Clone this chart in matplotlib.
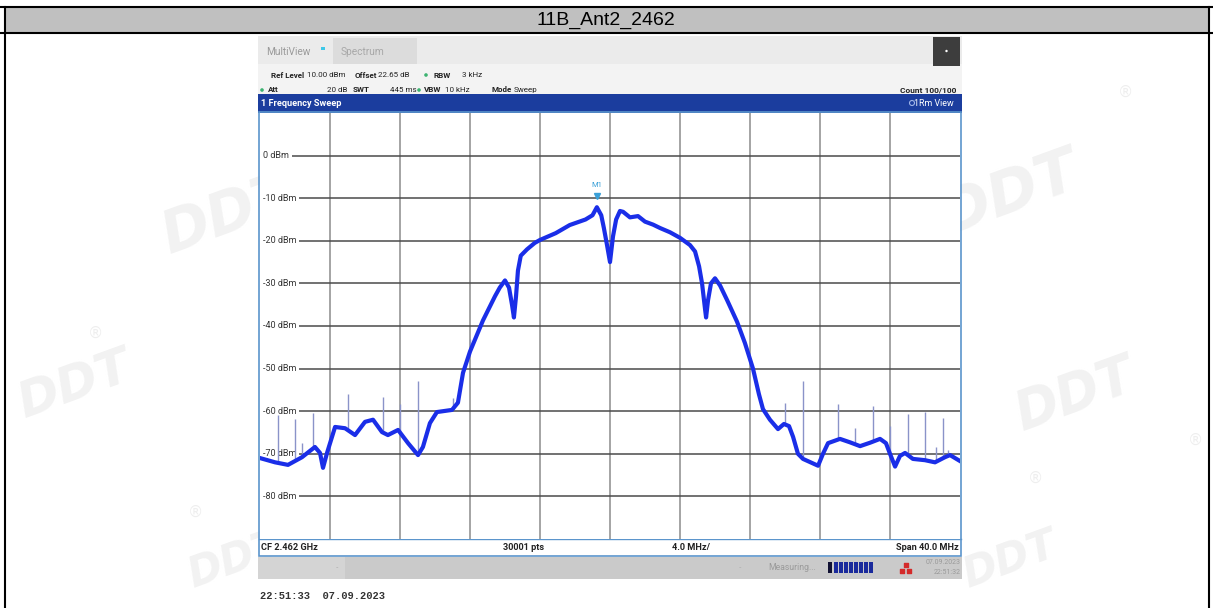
import numpy as np
import matplotlib
matplotlib.use("Agg")
import matplotlib.pyplot as plt
from matplotlib.patches import Rectangle, Circle
from matplotlib import font_manager

title = "11B_Ant2_2462"

# trace: offset from CF (MHz) and level (dBm)
freq_mhz = [-20.0, -19.14, -18.4, -17.6, -16.86, -16.57, -16.4, -16.17, -15.71, -15.14,
            -14.57, -14.0, -13.54, -13.03, -12.69, -12.11, -11.54, -10.97, -10.69, -10.29,
            -9.89, -9.03, -8.69, -8.4, -8.0, -7.26, -6.57, -6.3, -6.0, -5.77,
            -5.6, -5.49, -5.37, -5.26, -5.1, -4.74, -4.3, -4.0, -3.1, -2.3,
            -1.4, -1.0, -0.75, -0.5, -0.35, -0.17, 0.0, 0.17, 0.35, 0.57,
            0.75, 1.14, 1.6, 2.0, 2.46, 2.86, 3.43, 4.0, 4.57, 4.86,
            5.09, 5.26, 5.43, 5.49, 5.6, 5.77, 6.0, 6.29, 6.7, 7.26,
            7.71, 8.17, 8.51, 8.74, 9.14, 9.6, 9.94, 10.23, 10.46, 10.74,
            11.03, 11.89, 12.17, 12.46, 13.14, 13.71, 14.29, 14.86, 15.43, 15.77,
            16.0, 16.29, 16.57, 16.86, 17.31, 18.0, 18.57, 19.14, 19.43, 20.0]
level_dbm = [-71.0, -72.0, -72.6, -70.8, -68.4, -69.8, -73.3, -69.8, -63.7, -64.0,
             -65.6, -62.5, -62.0, -64.9, -65.6, -64.4, -67.5, -70.3, -68.4, -62.8,
             -60.2, -59.7, -58.0, -51.0, -46.0, -38.7, -33.0, -31.0, -29.3, -31.0,
             -35.0, -38.0, -33.0, -27.0, -23.5, -22.0, -20.5, -19.8, -18.2, -16.3,
             -15.0, -14.0, -12.12, -14.0, -17.0, -21.0, -25.0, -19.0, -15.0, -13.0,
             -13.2, -14.5, -14.2, -15.5, -16.2, -17.0, -18.0, -19.3, -21.0, -22.5,
             -26.0, -30.0, -36.0, -38.0, -34.0, -30.0, -28.8, -30.5, -34.0, -39.0,
             -44.0, -50.0, -56.0, -59.5, -62.0, -64.2, -63.0, -63.5, -66.0, -70.0,
             -71.2, -72.8, -70.0, -67.5, -66.5, -67.3, -68.2, -67.4, -66.5, -67.5,
             -70.0, -73.0, -70.5, -69.8, -71.2, -71.5, -72.0, -70.8, -70.3, -71.7]

# narrow spurs sticking out of the trace
spur_mhz = [-19.0, -18.0, -17.6, -17.0, -15.0, -13.0, -12.0, -11.0, -9.0, -8.0,
            10.0, 11.0, 13.0, 14.0, 15.0, 16.0, 17.0, 18.0, 18.6, 19.0, 19.3]
spur_top = [-61.0, -61.8, -67.4, -60.4, -56.0, -56.6, -58.2, -52.8, -56.8, -43.0,
            -58.0, -52.8, -58.2, -64.0, -58.7, -63.4, -60.6, -60.3, -68.5, -61.7, -69.0]

level_ticks = [0, -10, -20, -30, -40, -50, -60, -70, -80]
freq_grid = [-16, -12, -8, -4, 0, 4, 8, 12, 16]

m1_freq = -0.7466
m1_level = -12.12

names = {f.name for f in font_manager.fontManager.ttflist}
ui = "Liberation Sans Narrow" if "Liberation Sans Narrow" in names else "Roboto"

W, H = 1213, 608
fig = plt.figure(figsize=(W / 100, H / 100), dpi=100)
page = fig.add_axes([0, 0, 1, 1])
page.set_xlim(0, W)
page.set_ylim(H, 0)
page.axis("off")

# faint watermarks of the report
wm = "#f2f2f2"
for (x, y, s) in [(228, 215, 42), (1010, 195, 44), (1075, 395, 38), (75, 385, 36),
                  (235, 560, 30), (1010, 560, 30)]:
    page.text(x, y, "DDT", fontsize=s, fontweight="bold", style="italic", color=wm,
              ha="center", va="center", rotation=20, zorder=0)
for (x, y) in [(1125, 92), (95, 333), (195, 512), (1035, 478), (1195, 440)]:
    page.text(x, y, "\u00ae", fontsize=11, color="#eeeeee", ha="center", va="center", zorder=0)

# table header
page.add_patch(Rectangle((5, 7), 1204, 26, fc="#c0c0c0", ec="none", zorder=1))
page.plot([0, W], [7, 7], color="black", lw=1.5, zorder=2)
page.plot([0, W], [33, 33], color="black", lw=1.5, zorder=2)
page.plot([5, 5], [7, H], color="black", lw=1.5, zorder=2)
page.plot([1209, 1209], [7, H], color="black", lw=1.5, zorder=2)
page.text(606, 20, title, fontsize=14, family="Liberation Sans", ha="center", va="center", zorder=3)

# instrument screenshot frame
page.add_patch(Rectangle((258, 36), 704, 28, fc="#ebebeb", ec="none", zorder=1))
page.add_patch(Rectangle((258, 64), 704, 30, fc="#f3f3f3", ec="none", zorder=1))
page.add_patch(Rectangle((333, 38), 84, 26, fc="#dcdcdc", ec="none", zorder=1))
page.add_patch(Rectangle((933, 37), 27, 29, fc="#3d3d3d", ec="none", zorder=1))
page.add_patch(Circle((946.5, 51), 1.2, fc="white", ec="none", zorder=2))
page.text(266, 52, "MultiView", fontsize=7.3, family=ui, color="#9a9a9a", va="center", zorder=3)
page.add_patch(Rectangle((321, 47), 4, 3, fc="#3ec8e8", ec="none", zorder=3))
page.text(341, 52, "Spectrum", fontsize=7.3, family=ui, color="#a8a8a8", va="center", zorder=3)

fs = 5.8
row1 = [(271, "Ref Level", True), (307, "10.00 dBm", False), (355, "Offset", True),
        (378, "22.65 dB", False), (434, "RBW", True), (462, "3 kHz", False)]
row2 = [(268, "Att", True), (327, "20 dB", False), (353, "SWT", True), (390, "445 ms", False),
        (424, "VBW", True), (445, "10 kHz", False), (492, "Mode", True), (514, "Sweep", False)]
for x, s, b in row1:
    page.text(x, 75, s, fontsize=fs, family=ui, fontweight="bold" if b else "normal",
              color="#222222", va="center", zorder=3)
for x, s, b in row2:
    page.text(x, 90, s, fontsize=fs, family=ui, fontweight="bold" if b else "normal",
              color="#222222", va="center", zorder=3)
for x, y in [(426, 75), (262, 90), (419, 90)]:
    page.add_patch(Circle((x, y), 1.8, fc="#3cb371", ec="none", zorder=3))
page.text(956, 90, "Count 100/100", fontsize=6.0, family=ui, fontweight="bold",
          color="#222222", ha="right", va="center", zorder=3)

# blue title bar of the sweep window
page.add_patch(Rectangle((258, 94), 704, 18.5, fc="#1b3d9e", ec="none", zorder=1))
page.text(261, 103, "1 Frequency Sweep", fontsize=6.6, family=ui, fontweight="bold",
          color="white", va="center", zorder=3)
page.add_patch(Circle((912, 103), 2.5, fc="#1b3d9e", ec="#9fb4e8", lw=0.8, zorder=3))
page.text(954, 103, "1Rm View", fontsize=6.4, family=ui, color="white", ha="right", va="center", zorder=3)

# footer and status bar
page.add_patch(Rectangle((258, 539), 704, 17, fc="white", ec="none", zorder=1))
page.add_patch(Rectangle((259, 112), 702, 444, fc="none", ec="#5b95cc", lw=1.2, zorder=4))
page.plot([259, 961], [539, 539], color="#5b95cc", lw=1.0, zorder=4)
for x, s, ha in [(261, "CF 2.462 GHz", "left"), (503, "30001 pts", "left"),
                 (672, "4.0 MHz/", "left"), (959, "Span 40.0 MHz", "right")]:
    page.text(x, 547, s, fontsize=6.6, family=ui, fontweight="bold", color="#222222",
              ha=ha, va="center", zorder=3)
page.add_patch(Rectangle((258, 557), 704, 22, fc="#cacaca", ec="none", zorder=1))
page.add_patch(Rectangle((258, 557), 87, 22, fc="#d4d4d4", ec="none", zorder=1))
page.text(337, 567, "-", fontsize=5, color="#aaaaaa", ha="center", va="center", zorder=3)
page.text(740, 567, "-", fontsize=5, color="#aaaaaa", ha="center", va="center", zorder=3)
page.text(768, 568, "Measuring...", fontsize=6.2, family=ui, color="#9a9a9a", va="center", zorder=3)
page.add_patch(Rectangle((828, 562), 4, 11, fc="#111133", ec="none", zorder=3))
for i in range(8):
    page.add_patch(Rectangle((833.5 + i * 5, 562), 4, 11, fc="#1a2a9c", ec="none", zorder=3))
page.scatter([902, 909, 905.5], [571, 571, 565], s=6, marker="s", color="#d42a2a", zorder=3)
page.text(961, 563, "07.09.2023", fontsize=5, family=ui, color="#9a9a9a", ha="right", va="center", zorder=3)
page.text(961, 573, "22:51:32", fontsize=5, family=ui, color="#9a9a9a", ha="right", va="center", zorder=3)
page.text(260, 596, "22:51:33  07.09.2023", fontsize=7.5, family="Liberation Mono",
          fontweight="bold", color="#333333", va="center", zorder=3)

# marker readout
page.text(883, 124, "M1[1]", fontsize=6.2, family=ui, color="#2a9fd6", ha="right", va="center", zorder=3)
page.text(957, 124, f"{m1_level:.2f} dBm", fontsize=6.2, family=ui, color="#2a9fd6",
          ha="right", va="center", zorder=3)
page.text(959, 136, "2.461 253 40 GHz", fontsize=6.2, family=ui, color="#2a9fd6",
          ha="right", va="center", zorder=3)

# the spectrum itself
spec = fig.add_axes([260 / W, 1 - 539 / H, 700 / W, 426 / H])
spec.set_xlim(-20, 20)
spec.set_ylim(-90, 10)
spec.set_facecolor("white")
for s in spec.spines.values():
    s.set_visible(False)
spec.set_xticks([])
spec.set_yticks([])
for f in freq_grid:
    spec.axvline(f, color="#8c8c8c", lw=1.1, zorder=1)
for lv in level_ticks:
    spec.axhline(lv, color="#4a4a4a", lw=1.1, zorder=1)
    spec.text(-19.85, lv, f"{lv} dBm", fontsize=6.5, family=ui, color="#333333", va="center",
              ha="left", zorder=1.5, bbox=dict(fc="white", ec="none", pad=2.2))

base = np.interp(spur_mhz, freq_mhz, level_dbm)
spec.vlines(spur_mhz, base, spur_top, color="#8a93c9", lw=1.0, zorder=2)
spec.plot(freq_mhz, level_dbm, color="#1a2ee8", lw=3.0, zorder=3, solid_joinstyle="round")

spec.plot(m1_freq, m1_level + 2.6, marker="v", ms=4, color="#3aa0d8", zorder=4)
spec.text(m1_freq, m1_level + 5.2, "M1", fontsize=5.5, family=ui, color="#3aa0d8",
          ha="center", va="center", zorder=4)

fig.savefig("out.png", dpi=100)
